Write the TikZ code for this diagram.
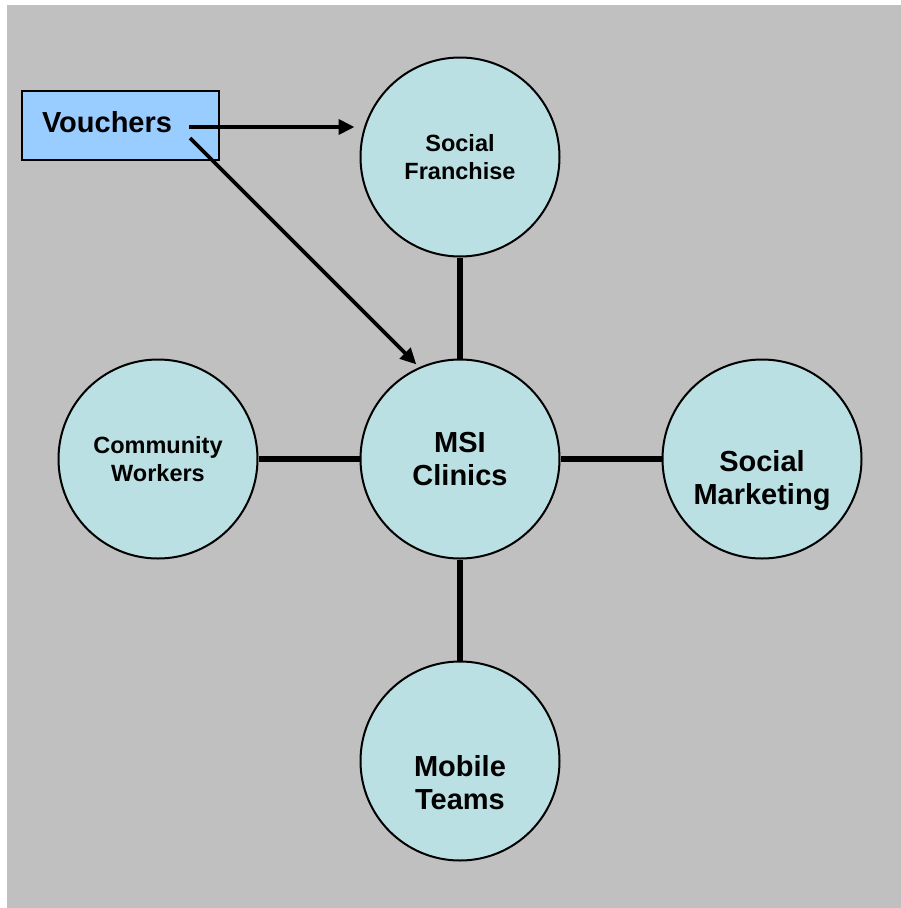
\documentclass[tikz,border=0pt]{standalone}
\usepackage{fontspec}
\setmainfont{Liberation Sans}
\usetikzlibrary{arrows.meta}
\definecolor{bggray}{HTML}{C0C0C0}
\definecolor{boxblue}{HTML}{99CCFF}
\definecolor{circfill}{HTML}{BBE0E3}
\newcommand{\lowstrut}{\rule{0pt}{65pt}}
\tikzset{
  hub/.style={circle, draw=black, line width=2pt, fill=circfill, minimum size=199pt, inner sep=0pt, align=center, font=\bfseries\fontsize{29}{33}\selectfont},
  smallhub/.style={hub, font=\bfseries\fontsize{23.5}{28}\selectfont},
  link/.style={line width=5.5pt},
  arr/.style={line width=3.8pt, -{Triangle[length=16pt,width=15pt]}},
  vbox/.style={rectangle, draw=black, line width=2pt, fill=boxblue, minimum width=197pt, minimum height=69pt, inner xsep=20pt, text width=157pt, align=left, text depth=8pt, font=\bfseries\fontsize{29}{33}\selectfont}
}
\begin{document}
\begin{tikzpicture}[x=1pt,y=-1pt]
\useasboundingbox (0,0) rectangle (901,908);
\fill[bggray] (7,5) rectangle (901,908);
\node[hub] (msi) at (460,459) {MSI\\Clinics};
\node[smallhub] (sf) at (460,157) {Social\\Franchise};
\node[smallhub] (cw) at (158,459) {Community\\Workers};
\node[hub] (sm) at (762,459) {\lowstrut Social\\Marketing};
\node[hub] (mt) at (460,761) {\lowstrut Mobile\\Teams};
\node[vbox] (v) at (120.5,125.5) {Vouchers};
\coordinate (v1) at (189,127);
\coordinate (v2) at (190,138);
\draw[link] (sf) -- (msi);
\draw[link] (cw) -- (msi);
\draw[link] (sm) -- (msi);
\draw[link] (mt) -- (msi);
\draw[arr, shorten >=5pt] (v1) -- (v1 -| sf.west);
\draw[arr, shorten >=4pt] (v2) -- (msi.114);
\end{tikzpicture}
\end{document}
